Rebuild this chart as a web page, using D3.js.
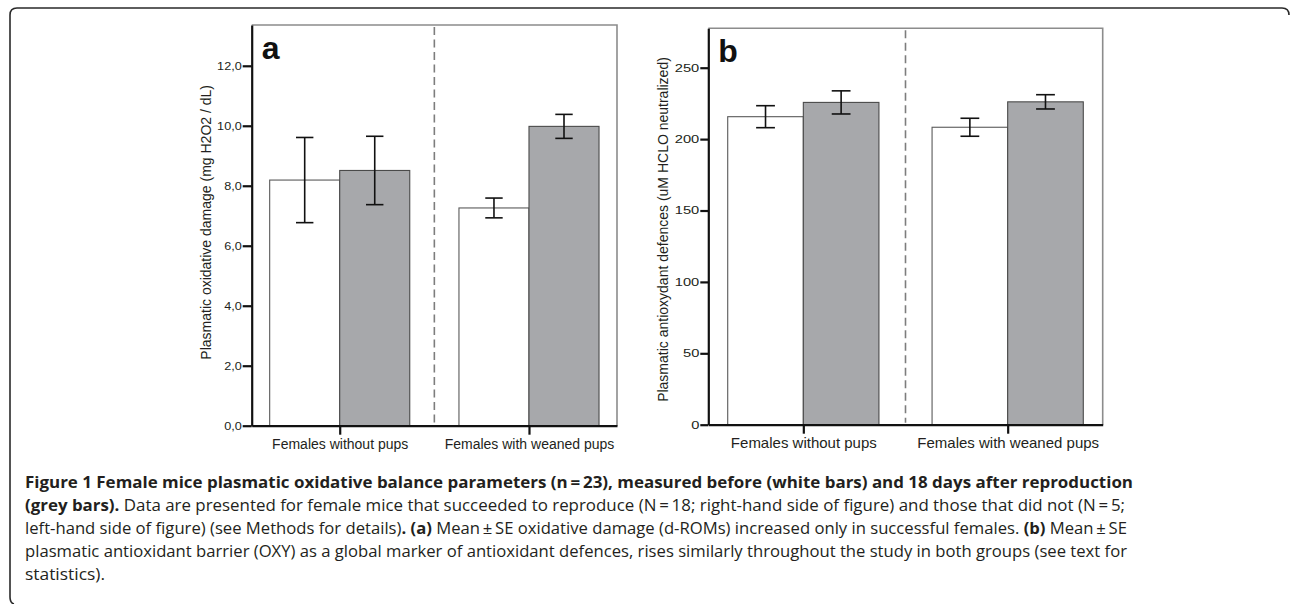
<!DOCTYPE html>
<html>
<head>
<meta charset="utf-8">
<script src="https://cdn.jsdelivr.net/npm/d3@7"></script>
<style>
  html, body { margin: 0; padding: 0; background: #fff; }
  svg { display: block; }
  .axis text { font-family: "Liberation Sans", Arial, sans-serif; fill: #231f20; }
  .axis path, .axis line { stroke: #111; }
</style>
</head>
<body>
<svg id="fig" width="1290" height="604"></svg>
<script>
// groups on the x axis
let groups = ["Females without pups", "Females with weaned pups"];

// panel a: oxidative damage, mean and SE, before / after
let damageBefore = [8.19, 7.26];
let damageBeforeSE = [1.42, 0.33];
let damageAfter = [8.51, 9.98];
let damageAfterSE = [1.14, 0.40];
let damageTicks = [0, 2, 4, 6, 8, 10, 12];

// panel b: antioxidant defences, mean and SE, before / after
let oxyBefore = [215.7, 208.3];
let oxyBeforeSE = [7.7, 6.3];
let oxyAfter = [225.7, 226.1];
let oxyAfterSE = [8.1, 5.0];
let oxyTicks = [0, 50, 100, 150, 200, 250];

let svg = d3.select("#fig");

// outer rounded frame of the figure
svg.append("path")
  .attr("d", "M1289,15 Q1289,8 1282,8 L17,8 Q10,8 10,15 L10,597 Q10,603 14,604")
  .attr("fill", "none")
  .attr("stroke", "#2a2a2a")
  .attr("stroke-width", 1.6);

function drawPanel(opt) {
  let box = opt.box;
  let g = svg.append("g");

  // set the ranges
  let x = d3.scalePoint()
            .domain(groups)
            .range([box.left, box.right])
            .padding(0.465);
  let step = x.step();
  let pair = step * 0.74;
  let inner = d3.scaleBand()
            .domain(["before", "after"])
            .range([-pair / 2, pair / 2]);
  let y = d3.scaleLinear()
            .domain([0, opt.yMax])
            .range([box.bottom, box.top]);

  // grey frame on top and right
  g.append("path")
    .attr("d", "M" + box.left + "," + box.top + " L" + box.right + "," + box.top + " L" + box.right + "," + box.bottom)
    .attr("fill", "none")
    .attr("stroke", "#8c8c8c")
    .attr("stroke-width", 1.6);

  // bars
  let rows = [];
  groups.forEach((grp, i) => {
    rows.push({ grp: grp, key: "before", v: opt.before[i], se: opt.beforeSE[i] });
    rows.push({ grp: grp, key: "after", v: opt.after[i], se: opt.afterSE[i] });
  });

  g.selectAll(".bar")
    .data(rows)
    .enter().append("rect")
      .attr("class", "bar")
      .attr("x", d => x(d.grp) + inner(d.key))
      .attr("width", inner.bandwidth())
      .attr("y", d => y(d.v))
      .attr("height", d => box.bottom - y(d.v))
      .attr("fill", d => d.key == "before" ? "#ffffff" : "#a7a8ab")
      .attr("stroke", d => d.key == "before" ? "#5a5a5a" : "#4a4a4a")
      .attr("stroke-width", 1.1);

  // error bars
  let cap = step * 0.046;
  let err = g.selectAll(".err")
    .data(rows)
    .enter().append("g")
      .attr("class", "err")
      .attr("stroke", "#111")
      .attr("stroke-width", 1.6);
  let cx = d => x(d.grp) + inner(d.key) + inner.bandwidth() / 2;
  err.append("line")
    .attr("x1", cx).attr("x2", cx)
    .attr("y1", d => y(d.v + d.se)).attr("y2", d => y(d.v - d.se));
  err.append("line")
    .attr("x1", d => cx(d) - cap).attr("x2", d => cx(d) + cap)
    .attr("y1", d => y(d.v + d.se)).attr("y2", d => y(d.v + d.se));
  err.append("line")
    .attr("x1", d => cx(d) - cap).attr("x2", d => cx(d) + cap)
    .attr("y1", d => y(d.v - d.se)).attr("y2", d => y(d.v - d.se));

  // dashed separator between the groups
  let mid = (x(groups[0]) + x(groups[1])) / 2;
  g.append("line")
    .attr("x1", mid).attr("x2", mid)
    .attr("y1", box.top + 2).attr("y2", box.bottom - 2)
    .attr("stroke", "#7d7d7d")
    .attr("stroke-width", 1.6)
    .attr("stroke-dasharray", "8,4.5");

  // y axis, tick labels are a bit stretched sideways in the original
  g.append("g")
    .attr("class", "axis")
    .attr("transform", "translate(" + box.left + ",0)")
    .call(d3.axisLeft(y).tickValues(opt.ticks).tickFormat(opt.fmt).tickSize(opt.tick).tickSizeOuter(0).tickPadding(1))
    .call(a => a.selectAll("text")
      .style("font-size", opt.tickFont + "px")
      .attr("x", -(opt.tick + 1) / opt.stretch)
      .attr("transform", "scale(" + opt.stretch + ",1)"))
    .call(a => a.selectAll("path, line").attr("stroke-width", 2.2));

  // x axis
  g.append("g")
    .attr("class", "axis")
    .attr("transform", "translate(0," + box.bottom + ")")
    .call(d3.axisBottom(x).tickSize(9).tickSizeOuter(0).tickPadding(4))
    .call(a => a.selectAll("text").style("font-size", opt.xFont + "px"))
    .call(a => a.selectAll("path, line").attr("stroke-width", 2.2));

  // y axis title
  g.append("text")
    .attr("transform", "translate(" + opt.titleX + "," + ((box.top + box.bottom) / 2 + opt.titleShift) + ") rotate(-90)")
    .attr("text-anchor", "middle")
    .attr("dominant-baseline", "middle")
    .style("font-family", "'Liberation Sans', Arial, sans-serif")
    .style("font-size", "14px")
    .style("fill", "#231f20")
    .text(opt.title);

  // panel letter
  g.append("text")
    .attr("x", box.left + 10)
    .attr("y", box.top + 34)
    .style("font-family", "'Liberation Sans', Arial, sans-serif")
    .style("font-weight", "bold")
    .style("font-size", "32px")
    .style("fill", "#111")
    .text(opt.letter);
}

drawPanel({
  box: { left: 251.7, right: 617, top: 25, bottom: 425.7 },
  yMax: 13.36,
  before: damageBefore, beforeSE: damageBeforeSE,
  after: damageAfter, afterSE: damageAfterSE,
  ticks: damageTicks,
  fmt: d => d3.format(".1f")(d).replace(".", ","),
  tick: 9, tickFont: 11, stretch: 1.15, xFont: 14,
  title: "Plasmatic oxidative damage (mg H2O2 / dL)",
  titleX: 207, titleShift: -3,
  letter: "a"
});

drawPanel({
  box: { left: 708.3, right: 1102.7, top: 28.3, bottom: 424.7 },
  yMax: 277.6,
  before: oxyBefore, beforeSE: oxyBeforeSE,
  after: oxyAfter, afterSE: oxyAfterSE,
  ticks: oxyTicks,
  fmt: d3.format("d"),
  tick: 8, tickFont: 10.5, stretch: 1.4, xFont: 15,
  title: "Plasmatic antioxydant defences (uM HCLO neutralized)",
  titleX: 664, titleShift: 3,
  letter: "b"
});

// caption, one line at a time, [text, bold]
let captionLines = [
  [["Figure 1 Female mice plasmatic oxidative balance parameters (n\u2009=\u200923), measured before (white bars) and 18 days after reproduction", true]],
  [["(grey bars).", true], [" Data are presented for female mice that succeeded to reproduce (N\u2009=\u200918; right-hand side of figure) and those that did not (N\u2009=\u20095;", false]],
  [["left-hand side of figure) (see Methods for details)", false], [".", true], [" ", false], ["(a)", true], [" Mean\u2009\u00b1\u2009SE oxidative damage (d-ROMs) increased only in successful females. ", false], ["(b)", true], [" Mean\u2009\u00b1\u2009SE", false]],
  [["plasmatic antioxidant barrier (OXY) as a global marker of antioxidant defences, rises similarly throughout the study in both groups (see text for", false]],
  [["statistics).", false]]
];
let captionWidths = [1108, 1100, 1102, 1102, 80];

captionLines.forEach((line, i) => {
  let t = svg.append("text")
    .attr("x", 25)
    .attr("y", 488 + i * 23)
    .style("font-family", "'Open Sans', 'Noto Sans', sans-serif")
    .style("font-size", "16.5px")
    .style("fill", "#231f20")
    .attr("xml:space", "preserve");
  line.forEach(seg => {
    t.append("tspan")
      .style("font-weight", seg[1] ? "bold" : "normal")
      .text(seg[0]);
  });
  t.attr("textLength", captionWidths[i]).attr("lengthAdjust", "spacingAndGlyphs");
});
</script>
</body>
</html>
